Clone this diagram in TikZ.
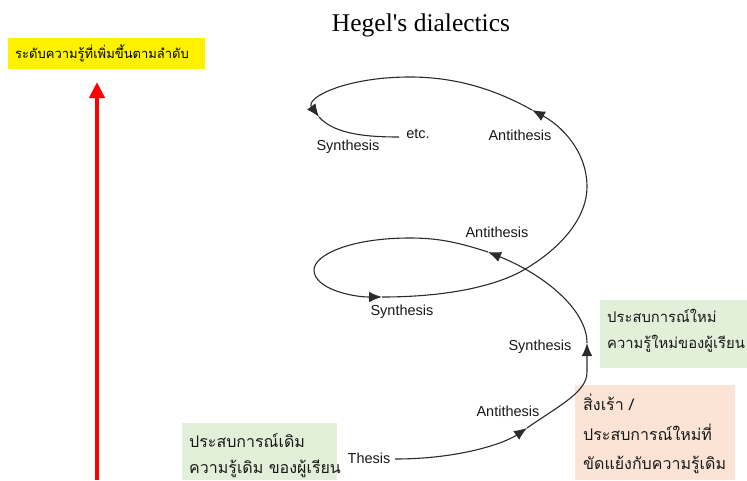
\documentclass[tikz,border=0pt]{standalone}
\usepackage{fontspec}
\setmainfont{Liberation Serif}
\setsansfont{Liberation Sans}
\newfontfamily\thaifont[Script=Thai]{Loma}
\usetikzlibrary{arrows.meta}
\definecolor{boxgreen}{HTML}{E2EFD9}
\definecolor{boxpink}{HTML}{FBE4D5}
\definecolor{curvegray}{HTML}{2B2B2B}
\tikzset{
  lbl/.style={font=\sffamily\fontsize{14.5}{16}\selectfont, text=black!90, inner sep=1pt},
  spiral/.style={draw=curvegray, line width=1.1pt},
  tipped/.style={spiral, -{Latex[length=13pt,width=10.5pt]}},
  thaibox/.style={font=\thaifont\fontsize{16}{26}\selectfont, align=left, anchor=north west, inner sep=0pt, text=black!90}
}
\begin{document}
\begin{tikzpicture}[x=1pt,y=-1pt]
\useasboundingbox (0,0) rectangle (747,480);

% title
\node[font=\fontsize{25.5}{28}\selectfont] (title) at (421,25) {Hegel\textquotesingle s dialectics};

% yellow box and red arrow
\fill[yellow] (8,38) rectangle (205,69);
\node[font=\thaifont\fontsize{13}{14}\selectfont, anchor=west, inner sep=0pt] (level) at (15,53.5) {ระดับความรู้ที่เพิ่มขึ้นตามลำดับ};
\coordinate (rb) at (97,480);
\coordinate (rt) at (97,82);
\draw[red, line width=4.5pt, -{Triangle[length=16pt,width=15pt]}] (rb) -- (rt);

% coloured boxes
\fill[boxgreen] (182,423) rectangle (337,480);
\node[thaibox] (oldexp) at (189,433) {ประสบการณ์เดิม\\ความรู้เดิม ของผู้เรียน};
\fill[boxgreen] (600,300) rectangle (747,368);
\node[thaibox, font=\thaifont\fontsize{14.8}{26}\selectfont] (newexp) at (607,309) {ประสบการณ์ใหม่\\ความรู้ใหม่ของผู้เรียน};
\fill[boxpink] (575,385) rectangle (735,480);
\node[thaibox, font=\thaifont\fontsize{16}{29.5}\selectfont] (stim) at (583,394) {สิ่งเร้า /\\ประสบการณ์ใหม่ที่\\ขัดแย้งกับความรู้เดิม};

% labels
\node[lbl] (thesis) at (369,458) {Thesis};
\node[lbl] (anti1) at (508,411) {Antithesis};
\node[lbl] (syn1) at (540,347) {Synthesis};
\node[lbl] (anti2) at (497,232) {Antithesis};
\node[lbl] (syn2) at (402,312) {Synthesis};
\node[lbl] (anti3) at (520,135) {Antithesis};
\node[lbl] (syn3) at (348,147) {Synthesis};
\node[lbl] (etc) at (418,134) {etc.};

% spiral points
\coordinate (p0) at (395,459);
\coordinate (a1) at (527,428);
\coordinate (b2) at (587,372);
\coordinate (a2) at (587,343);
\coordinate (a3) at (488,252);
\coordinate (a4) at (382,297);
\coordinate (a5) at (532,110);
\coordinate (a6) at (319,117);
\coordinate (pe) at (399,137);

\draw[tipped] (p0) .. controls (460,459) and (505,443) .. (a1);
\draw[tipped] (a1) .. controls (560,405) and (587,392) .. (b2) -- (a2);
\draw[tipped] (a2) .. controls (587,310) and (545,275) .. (a3);
\draw[tipped] (a3) .. controls (460,243) and (440,238) .. (410,238)
   .. controls (350,238) and (314,255) .. (314,270)
   .. controls (314,288) and (350,297) .. (a4);
\draw[tipped] (a4) .. controls (450,297) and (500,285) .. (527,268)
   .. controls (565,245) and (587,215) .. (587,187)
   .. controls (587,150) and (560,125) .. (a5);
\draw[tipped] (a5) .. controls (500,92) and (460,77) .. (410,77)
   .. controls (345,77) and (305,98) .. (a6);
\draw[spiral] (a6) .. controls (335,135) and (370,137) .. (pe);
\end{tikzpicture}
\end{document}
